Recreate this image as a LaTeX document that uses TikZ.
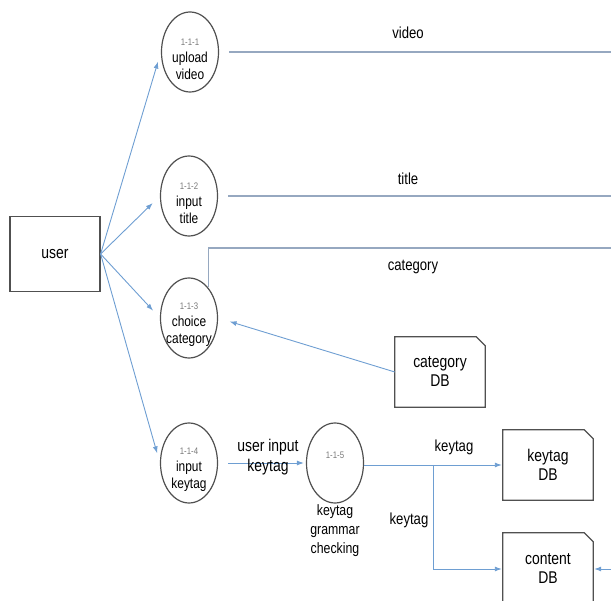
\documentclass[tikz,border=0pt]{standalone}
\usepackage{fontspec}
\setmainfont{Liberation Sans}[FakeStretch=0.82]
\usepackage{tikz}
\usetikzlibrary{arrows.meta, shapes.geometric}
\definecolor{flowblue}{RGB}{110,158,210}
\definecolor{linegray}{RGB}{150,168,192}
\definecolor{edgegray}{RGB}{80,80,80}
\definecolor{numgray}{RGB}{120,120,120}
\newcommand{\pnum}[1]{{\fontsize{9.5}{11}\selectfont\color{numgray}#1}}

\begin{document}
\begin{tikzpicture}[x=1pt, y=-1pt,
    proc/.style={ellipse, draw=edgegray, line width=1.2pt, minimum width=57pt,
      minimum height=80pt, inner sep=0pt,
      label={[ptext, yshift=-7pt]center:#1}},
    ptext/.style={align=center, font=\fontsize{14.5}{17}\selectfont},
    ext/.style={rectangle, draw=edgegray, line width=1.2pt, minimum width=90pt,
      minimum height=75pt, font=\fontsize{17}{19}\selectfont},
    store/.style={minimum width=90pt, minimum height=70pt, align=center,
      font=\fontsize{17}{19}\selectfont},
    lbl/.style={font=\fontsize{16}{19}\selectfont, align=center},
    flow/.style={draw=flowblue, line width=0.9pt, -{Latex[length=7pt,width=5pt]}},
    plain/.style={draw=linegray, line width=1.2pt}]
        \useasboundingbox (0,0) rectangle (611,601);
        \clip (0,0) rectangle (611,601);

        % external entity and processes
        \node[ext] (user) at (55,254) {user};
        \node[proc={\pnum{1-1-1}\\upload\\video}] (p1) at (190,52) {};
        \node[proc={\pnum{1-1-2}\\input\\title}] (p2) at (189,196) {};
        \node[proc={\pnum{1-1-3}\\choice\\category}] (p3) at (189,318) {};
        \node[proc={\pnum{1-1-4}\\input\\keytag}] (p4) at (189,463) {};
        \node[proc, label={[ptext, yshift=8pt]center:\pnum{1-1-5}}] (p5) at (335,463) {};

        % data stores
        \node[store] (catdb) at (440,372) {category\\DB};
        \node[store] (kdb) at (548,465) {keytag\\DB};
        \node[store, minimum height=72pt] (cdb) at (548,569) {content\\DB};
        \foreach \n in {catdb,kdb,cdb}
            \draw[edgegray, line width=1.2pt] (\n.north west) -- ([xshift=-9pt]\n.north east)
                -- ([yshift=-9pt]\n.north east) -- (\n.south east) -- (\n.south west) -- cycle;

        \coordinate (vidEnd) at (611,52);
        \coordinate (titleEnd) at (611,196);
        \coordinate (catEnd) at (611,248);
        \coordinate (br) at (433,465);
        \coordinate (cin) at (611,569);

        % flows
        \foreach \p in {p1,p2,p3,p4}
            \draw[flow, shorten >=10pt] (user.east) -- (\p.west);
        \draw[plain, shorten <=10pt] (p1.east) -- (vidEnd);
        \draw[plain, shorten <=10pt] (p2.east) -- (titleEnd);
        \draw[plain] (p3.58) |- (catEnd);
        \draw[flow, shorten >=12pt] (catdb.west) -- (p3.east);
        \draw[flow, shorten <=10pt, shorten >=2pt] (p4.east) -- (p5.west);
        \draw[flow, shorten >=1pt] (p5.east |- kdb.west) -- (kdb.west);
        \draw[flow, shorten >=1pt] (br) |- (cdb.west);
        \draw[flow, shorten >=1pt] (cin) -- (cdb.east);

        % labels
        \node[lbl] (vidLbl) at (408,33) {video};
        \node[lbl] (titleLbl) at (408,179) {title};
        \node[lbl] (catLbl) at (413,267) {category};
        \node[lbl, font=\fontsize{17}{20}\selectfont] (uikLbl) at (268,457) {user input\\keytag};
        \node[lbl] (ktLbl) at (454,447) {keytag};
        \node[lbl] (ktLbl2) at (409,520) {keytag};
        \node[lbl, font=\fontsize{15}{19}\selectfont] (p5Lbl) at (335,531) {keytag\\grammar\\checking};
    \end{tikzpicture}
\end{document}
